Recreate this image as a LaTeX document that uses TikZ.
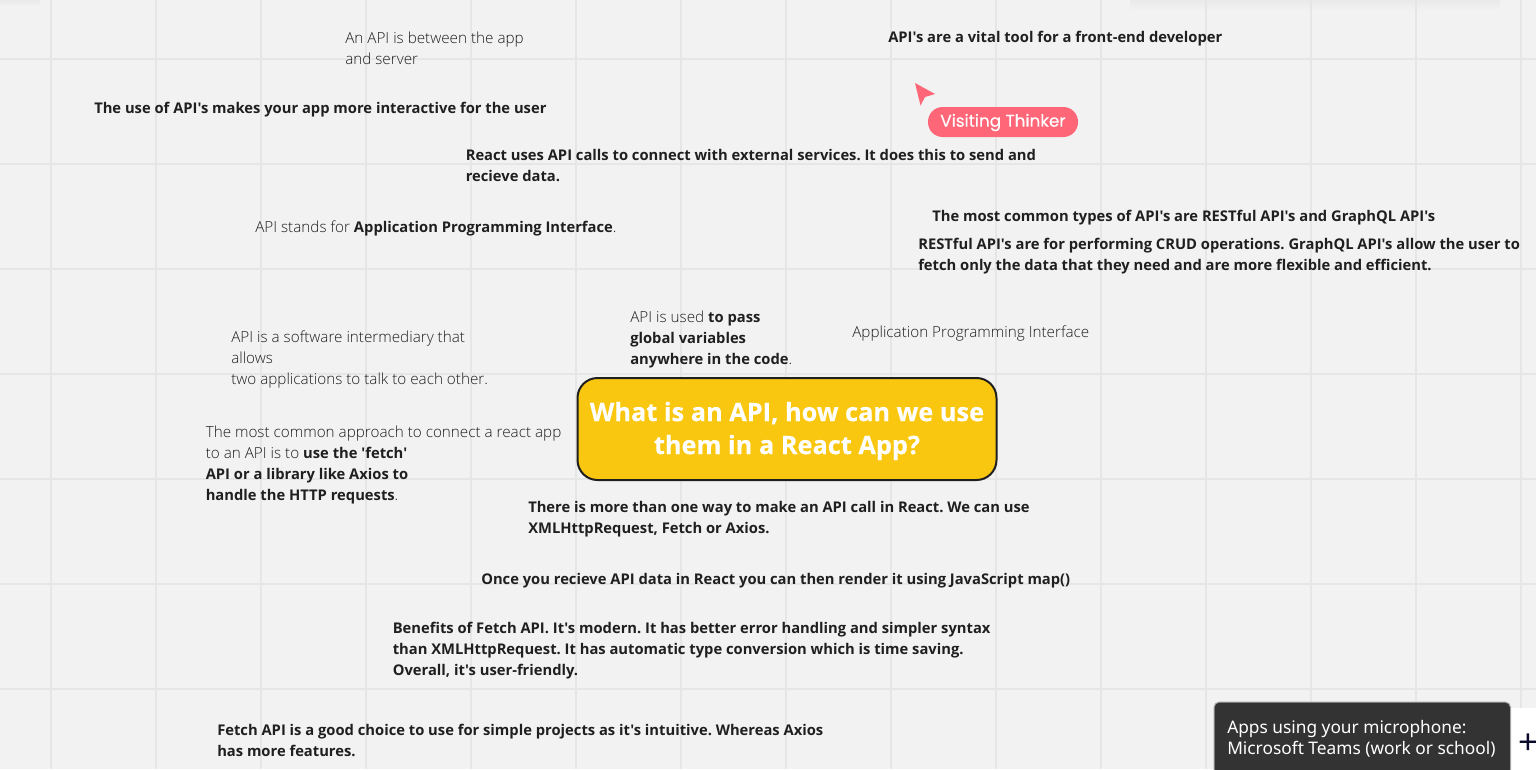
\documentclass[tikz,border=0pt]{standalone}
\usepackage{fontspec}
\newfontfamily\notefont{Open Sans}[UprightFont=* Light,BoldFont=* Bold]
\newfontfamily\titlefont{Open Sans}[UprightFont=* Bold,FakeBold=0.3]
\newfontfamily\badgefont{Poppins}[FakeBold=0.3]
\newfontfamily\tipfont{Noto Sans}
\newcommand{\keyword}[1]{{\bfseries\fontsize{11.06}{15.75}\selectfont #1}}
\definecolor{boardbg}{HTML}{F2F2F3}
\definecolor{boardshade}{HTML}{EAEAEB}
\definecolor{gridline}{HTML}{E6E6E6}
\definecolor{notetext}{HTML}{1F1F1F}
\definecolor{titlefill}{HTML}{F9C710}
\definecolor{cursorred}{HTML}{FF6677}
\definecolor{tipfill}{HTML}{333333}
\definecolor{plusblue}{HTML}{0A0A2A}

\begin{document}
\frenchspacing
\begin{tikzpicture}[
    x=0.75pt,
    y=-0.75pt,
    help lines/.style={
        color=gridline,
        line width=1pt
    },
    note/.style={
        anchor=north west,
        inner sep=0pt,
        align=left,
        text=notetext,
        font=\notefont\fontsize{11.44}{15.75}\selectfont,
        execute at begin node=\strut
    },
    boldnote/.style={
        note,
        font=\notefont\bfseries\fontsize{11.06}{15.75}\selectfont
    }
]

\useasboundingbox (0,0) rectangle (1536,769);
\fill[boardbg] (0,0) rectangle (1536,769);

% shadows along the top edge
\shade[top color=boardshade,bottom color=boardbg] (1130,0) rectangle (1500,10);
\shade[top color=boardshade,bottom color=boardbg] (0,0) rectangle (40,6);

% grid
\draw[style=help lines] (51,0) -- (51,769);
\draw[style=help lines] (156,0) -- (156,769);
\draw[style=help lines] (261,0) -- (261,769);
\draw[style=help lines] (366,0) -- (366,769);
\draw[style=help lines] (471,0) -- (471,769);
\draw[style=help lines] (576,0) -- (576,769);
\draw[style=help lines] (681,0) -- (681,769);
\draw[style=help lines] (786,0) -- (786,769);
\draw[style=help lines] (891,0) -- (891,769);
\draw[style=help lines] (996,0) -- (996,769);
\draw[style=help lines] (1101,0) -- (1101,769);
\draw[style=help lines] (1206,0) -- (1206,769);
\draw[style=help lines] (1311,0) -- (1311,769);
\draw[style=help lines] (1416,0) -- (1416,769);
\draw[style=help lines] (1521,0) -- (1521,769);

\draw[style=help lines] (0,59) -- (1536,59);
\draw[style=help lines] (0,164) -- (1536,164);
\draw[style=help lines] (0,269) -- (1536,269);
\draw[style=help lines] (0,374) -- (1536,374);
\draw[style=help lines] (0,479) -- (1536,479);
\draw[style=help lines] (0,584) -- (1536,584);
\draw[style=help lines] (0,689) -- (1536,689);

% notes
\node[note] (between) at (345,32) {An API is between the app\\and server};
\node[boldnote] (vital) at (888,28) {API's are a vital tool for a front-end developer};
\node[boldnote] (interactive) at (94,99) {The use of API's makes your app more interactive for the user};
\node[boldnote] (external) at (465.5,149.5) {React uses API calls to connect with external services. It does this to send and\\recieve data.};
\node[note] (stands) at (255,218) {API stands for \keyword{Application Programming Interface}.};
\node[boldnote] (types) at (932,207) {The most common types of API's are RESTful API's and GraphQL API's};
\node[boldnote] (restful) at (918,238) {RESTful API's are for performing CRUD operations. GraphQL API's allow the user to\\fetch only the data that they need and are more flexible and efficient.};
\node[note] (intermediary) at (231,331) {API is a software intermediary that\\allows\\two applications to talk to each other.};
\node[note] (globals) at (630,311) {API is used \keyword{to pass}\\\keyword{global variables}\\\keyword{anywhere in the code}.};
\node[note] (fullname) at (852,323) {Application Programming Interface};
\node[note] (approach) at (205.5,426) {The most common approach to connect a react app\\to an API is to \keyword{use the 'fetch'}\\\keyword{API or a library like Axios to}\\\keyword{handle the HTTP requests}.};
\node[boldnote] (oneway) at (528,501) {There is more than one way to make an API call in React. We can use\\XMLHttpRequest, Fetch or Axios.};
\node[boldnote] (render) at (481,570) {Once you recieve API data in React you can then render it using JavaScript map()};
\node[boldnote] (benefits) at (392.5,622) {Benefits of Fetch API. It's modern. It has better error handling and simpler syntax\\than XMLHttpRequest. It has automatic type conversion which is time saving.\\Overall, it's user-friendly.};
\node[boldnote] (choice) at (217,724) {Fetch API is a good choice to use for simple projects as it's intuitive. Whereas Axios\\has more features.};

% title
\node[draw=notetext,line width=1.5pt,fill=titlefill,rounded corners=15pt,minimum width=419*0.75pt,minimum height=102*0.75pt,inner sep=0pt,align=center,text=white,font=\titlefont\fontsize{19}{24.75}\selectfont] (title) at (787,429) {\rule{0pt}{17.4pt}What is an API, how can we use\\them in a React App?};

% visitor cursor
\fill[cursorred] (915,83) -- (935,94) -- (925,97) -- (920.5,105.5) -- cycle;
\node[fill=cursorred,rounded corners=11pt,minimum width=150*0.75pt,minimum height=30*0.75pt,inner sep=0pt,text height=9pt,text depth=2pt,text=white,font=\badgefont\fontsize{12.6}{15}\selectfont] (visitor) at (1003,122) {Visiting Thinker};

% bottom right
\fill[white] (1505,708) rectangle (1536,769);
\node[anchor=center,inner sep=0pt,text=plusblue,font=\tipfont\fontsize{26}{28}\selectfont] (plus) at (1528.5,744) {+};
\fill[tipfill,rounded corners=4pt,draw=gray!70,line width=0.75pt] (1214,702) -- (1510.5,702) -- (1510.5,775) -- (1214,775) -- cycle;
\node[anchor=north west,inner sep=0pt,align=left,text=white,font=\tipfont\fontsize{12.98}{15.75}\selectfont,execute at begin node=\strut] (mic) at (1227,720) {Apps using your microphone:\\Microsoft Teams (work or school)};

\end{tikzpicture}
\end{document}
